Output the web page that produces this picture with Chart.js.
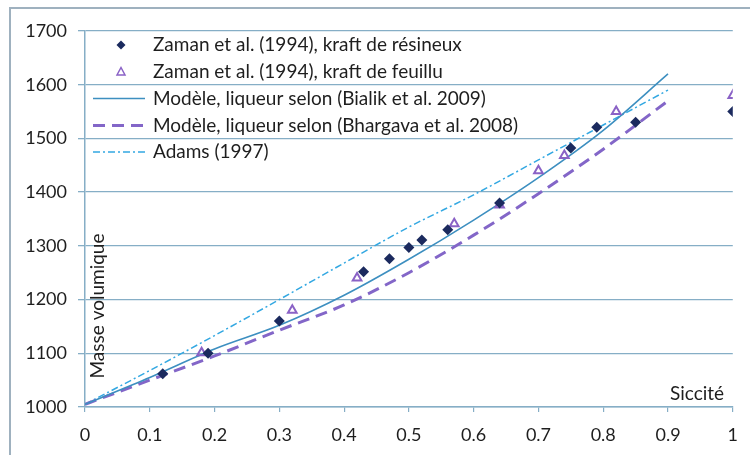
<!DOCTYPE html>
<html>
<head>
<meta charset="utf-8">
<script src="https://cdn.jsdelivr.net/npm/chart.js@4.4.1/dist/chart.umd.min.js"></script>
<style>
html,body{margin:0;padding:0;background:#fff;}
#wrap{width:750px;height:455px;position:relative;}
</style>
</head>
<body>
<div id="wrap"><canvas id="c" width="750" height="455"></canvas></div>
<script>
// ---- Data ----
const seriesNames = [
  "Zaman et al. (1994), kraft de résineux",
  "Zaman et al. (1994), kraft de feuillu",
  "Modèle, liqueur selon (Bialik et al. 2009)",
  "Modèle, liqueur selon (Bhargava et al. 2008)",
  "Adams (1997)"
];
// Zaman et al., softwood kraft (diamonds)
const resineuxX = [0.12, 0.19, 0.30, 0.43, 0.47, 0.50, 0.52, 0.56, 0.64, 0.75, 0.79, 0.85, 1.00];
const resineuxY = [1062, 1100, 1160, 1252, 1276, 1297, 1311, 1330, 1380, 1482, 1521, 1530, 1550];
// Zaman et al., hardwood kraft (triangles)
const feuilluX = [0.18, 0.32, 0.42, 0.57, 0.64, 0.70, 0.74, 0.82, 1.00];
const feuilluY = [1101, 1180, 1240, 1341, 1376, 1440, 1468, 1550, 1580];
// Model curves
const modelX    = [0, 0.1, 0.2, 0.3, 0.4, 0.5, 0.6, 0.7, 0.8, 0.9];
const bialikY   = [1005, 1055, 1108, 1152, 1208, 1275, 1348, 1427, 1515, 1620];
const bhargavaY = [1005, 1050, 1095, 1143, 1190, 1250, 1320, 1397, 1480, 1570];
const adamsY    = [1005, 1068, 1133, 1200, 1268, 1335, 1395, 1460, 1525, 1590];
// Axes
const yTicks = [1000, 1100, 1200, 1300, 1400, 1500, 1600, 1700];
const xTickLabels = ["0", "0.1", "0.2", "0.3", "0.4", "0.5", "0.6", "0.7", "0.8", "0.9", "1"];
const yTitle = "Masse volumique";
const xTitle = "Siccité";

const pts = (xs, ys) => xs.map((x, i) => ({x: x, y: ys[i]}));

const COL_DIAMOND = '#1b2a5e';
const COL_TRI = '#8a62c6';
const COL_BIALIK = '#3d8fc0';
const COL_BHARG = '#8366c8';
const COL_ADAMS = '#33a8e2';
const GRID = '#86aec6';
const FONT = 'Lato';

Chart.defaults.font.family = FONT;
Chart.defaults.color = '#1e1e1e';

const framePlugin = {
  id: 'frame',
  beforeDraw(chart) {
    const ctx = chart.ctx;
    ctx.save();
    ctx.fillStyle = '#ffffff';
    ctx.fillRect(0, 0, chart.width, chart.height);
    ctx.strokeStyle = '#9fb1bf';
    ctx.lineWidth = 2;
    ctx.strokeRect(10, 8, chart.width + 20, chart.height + 20);
    ctx.restore();
  }
};

const legendPlugin = {
  id: 'customLegend',
  afterDatasetsDraw(chart) {
    const ctx = chart.ctx;
    const ds = chart.data.datasets;
    const rowY = [45, 71.5, 98.5, 125.5, 152];
    ctx.save();
    ctx.font = '19px ' + FONT;
    ctx.textBaseline = 'middle';
    ctx.textAlign = 'left';
    ds.forEach((d, i) => {
      const y = rowY[i];
      if (d.showLine) {
        ctx.save();
        ctx.strokeStyle = d.borderColor;
        ctx.lineWidth = d.borderWidth;
        ctx.setLineDash(d.borderDash || []);
        ctx.beginPath();
        ctx.moveTo(93, y);
        ctx.lineTo(145, y);
        ctx.stroke();
        ctx.restore();
      } else {
        ctx.save();
        if (d.pointStyle === 'rectRot') {
          ctx.fillStyle = d.pointBackgroundColor;
          ctx.beginPath();
          ctx.moveTo(121, y - 4.5); ctx.lineTo(125.5, y); ctx.lineTo(121, y + 4.5); ctx.lineTo(116.5, y);
          ctx.closePath(); ctx.fill();
        } else {
          ctx.strokeStyle = d.pointBorderColor;
          ctx.lineWidth = 1.5;
          ctx.beginPath();
          ctx.moveTo(121, y - 4); ctx.lineTo(125, y + 3.5); ctx.lineTo(117, y + 3.5);
          ctx.closePath(); ctx.stroke();
        }
        ctx.restore();
      }
      ctx.fillStyle = '#1e1e1e';
      ctx.fillText(d.label, 153, y);
    });
    // axis titles inside the plot
    ctx.textAlign = 'center';
    ctx.fillText(xTitle, 697, 394);
    ctx.translate(98, 306);
    ctx.rotate(-Math.PI / 2);
    ctx.fillText(yTitle, 0, 0);
    ctx.restore();
  }
};

new Chart(document.getElementById('c'), {
  type: 'scatter',
  data: {
    datasets: [
      {label: seriesNames[0], data: pts(resineuxX, resineuxY), showLine: false,
       pointStyle: 'rectRot', pointRadius: 5.5, pointBackgroundColor: COL_DIAMOND,
       pointBorderColor: COL_DIAMOND, pointBorderWidth: 0, order: 1},
      {label: seriesNames[1], data: pts(feuilluX, feuilluY), showLine: false,
       pointStyle: 'triangle', pointRadius: 5, pointBackgroundColor: 'rgba(255,255,255,0)',
       pointBorderColor: COL_TRI, pointBorderWidth: 2, order: 2},
      {label: seriesNames[2], data: pts(modelX, bialikY), showLine: true,
       borderColor: COL_BIALIK, borderWidth: 1.6, pointRadius: 0, cubicInterpolationMode: 'monotone', order: 3},
      {label: seriesNames[3], data: pts(modelX, bhargavaY), showLine: true,
       borderColor: COL_BHARG, borderWidth: 3, borderDash: [12, 7], pointRadius: 0, cubicInterpolationMode: 'monotone', order: 4},
      {label: seriesNames[4], data: pts(modelX, adamsY), showLine: true,
       borderColor: COL_ADAMS, borderWidth: 1.5, borderDash: [7, 3, 2, 3], pointRadius: 0, cubicInterpolationMode: 'monotone', order: 5}
    ]
  },
  options: {
    responsive: false,
    animation: false,
    layout: {padding: {left: 0, right: 15, top: 31, bottom: 0}},
    plugins: {legend: {display: false}, tooltip: {enabled: false}},
    scales: {
      x: {
        type: 'linear', min: 0, max: 1,
        afterFit(s) { s.height = 48; },
        afterBuildTicks(s) { s.ticks = xTickLabels.map(t => ({value: parseFloat(t)})); },
        ticks: {
          font: {size: 18}, padding: 12, color: '#1e1e1e',
          callback: (v, i) => xTickLabels[i]
        },
        grid: {drawOnChartArea: false, drawTicks: true, tickLength: 5, color: GRID, lineWidth: 1.2},
        border: {display: true, color: GRID, width: 1.5}
      },
      y: {
        type: 'linear', min: 1000, max: 1700,
        afterFit(s) { s.width = 85; },
        afterBuildTicks(s) { s.ticks = yTicks.map(v => ({value: v})); },
        ticks: {font: {size: 18}, padding: 11, color: '#1e1e1e', callback: v => String(v)},
        grid: {color: GRID, lineWidth: 1.3, tickLength: 7, drawTicks: true},
        border: {display: true, color: GRID, width: 1.5}
      }
    }
  },
  plugins: [framePlugin, legendPlugin]
});
</script>
</body>
</html>
